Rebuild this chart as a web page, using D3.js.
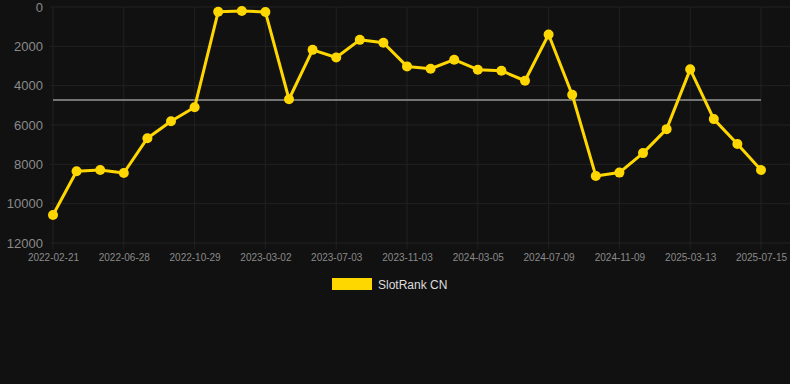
<!DOCTYPE html>
<html>
<head>
<meta charset="utf-8">
<script src="https://cdn.jsdelivr.net/npm/d3@7"></script>
<style>
  html, body { margin: 0; padding: 0; background: #111111; }
  svg { display: block; font-family: "Liberation Sans", Arial, sans-serif; }
</style>
</head>
<body>
<div class="chart-container"></div>
<script>
const dates = [
  "2022-02-21", "2022-04-03", "2022-05-16", "2022-06-28", "2022-08-08", "2022-09-18",
  "2022-10-29", "2022-12-09", "2023-01-20", "2023-03-02", "2023-04-12", "2023-05-23",
  "2023-07-03", "2023-08-13", "2023-09-23", "2023-11-03", "2023-12-14", "2024-01-24",
  "2024-03-05", "2024-04-16", "2024-05-28", "2024-07-09", "2024-08-19", "2024-09-29",
  "2024-11-09", "2024-12-20", "2025-01-31", "2025-03-13", "2025-04-23", "2025-06-04",
  "2025-07-15"
];
const ranks = [
  10580, 8350, 8290, 8440, 6670, 5810, 5100, 240, 200, 250, 4690, 2180,
  2570, 1670, 1820, 3020, 3140, 2680, 3190, 3240, 3750, 1400, 4460, 8590,
  8420, 7430, 6210, 3170, 5700, 6970, 8290
];
const yTicks = [0, 2000, 4000, 6000, 8000, 10000, 12000];
const seriesName = "SlotRank CN";

const W = 790, H = 384;
const margin = { top: 7, right: 29, bottom: 141, left: 53 };
const width = W - margin.left - margin.right,
      height = H - margin.top - margin.bottom;

const data = dates.map((d, i) => ({ date: d, value: ranks[i] }));

const svg = d3.select(".chart-container").append("svg")
    .attr("width", W)
    .attr("height", H);

svg.append("rect").attr("width", W).attr("height", H).attr("fill", "#111111");

const g = svg.append("g")
    .attr("transform", "translate(" + margin.left + "," + margin.top + ")");

const x = d3.scalePoint()
    .domain(dates)
    .range([0, width]);

const y = d3.scaleLinear()
    .domain([0, 12000])
    .range([0, height]);

const labelDates = dates.filter((d, i) => i % 3 === 0);

// grid
g.append("g")
    .selectAll("line")
    .data(yTicks)
    .join("line")
    .attr("x1", -3).attr("x2", width + margin.right)
    .attr("y1", d => y(d)).attr("y2", d => y(d))
    .attr("stroke", "#222222")
    .attr("stroke-width", 1);

g.append("g")
    .selectAll("line")
    .data(labelDates)
    .join("line")
    .attr("x1", d => x(d)).attr("x2", d => x(d))
    .attr("y1", 0).attr("y2", height + 6)
    .attr("stroke", "#222222")
    .attr("stroke-width", 1);

// y axis labels
const yAxis = g.append("g")
    .call(d3.axisLeft(y).tickValues(yTicks).tickSize(0).tickPadding(10).tickFormat(d3.format("d")));
yAxis.select(".domain").remove();
yAxis.selectAll("text")
    .attr("fill", "#8a8a8a")
    .style("font-size", "13px");

// x axis labels
const xAxis = g.append("g")
    .attr("transform", "translate(0," + height + ")")
    .call(d3.axisBottom(x).tickValues(labelDates).tickSize(0).tickPadding(11));
xAxis.select(".domain").remove();
xAxis.selectAll("text")
    .attr("fill", "#8a8a8a")
    .style("font-size", "10px");

// average line
const avg = d3.mean(ranks);
g.append("line")
    .attr("x1", x(dates[0]))
    .attr("x2", x(dates[dates.length - 1]))
    .attr("y1", y(avg))
    .attr("y2", y(avg))
    .attr("stroke", "#747474")
    .attr("stroke-width", 2);

const line = d3.line()
    .x(d => x(d.date))
    .y(d => y(d.value));

g.append("path")
    .datum(data)
    .attr("d", line)
    .attr("fill", "none")
    .attr("stroke", "#FFD700")
    .attr("stroke-width", 3)
    .attr("stroke-linejoin", "round");

g.append("g")
    .selectAll("circle")
    .data(data)
    .join("circle")
    .attr("cx", d => x(d.date))
    .attr("cy", d => y(d.value))
    .attr("r", 5)
    .attr("fill", "#FFD700");

// legend
const legend = svg.append("g")
    .attr("transform", "translate(332,278)");
legend.append("rect")
    .attr("width", 40)
    .attr("height", 12)
    .attr("fill", "#FFD700");
legend.append("text")
    .attr("x", 46)
    .attr("y", 10.5)
    .attr("fill", "#dddddd")
    .style("font-size", "12px")
    .text(seriesName);
</script>
</body>
</html>
